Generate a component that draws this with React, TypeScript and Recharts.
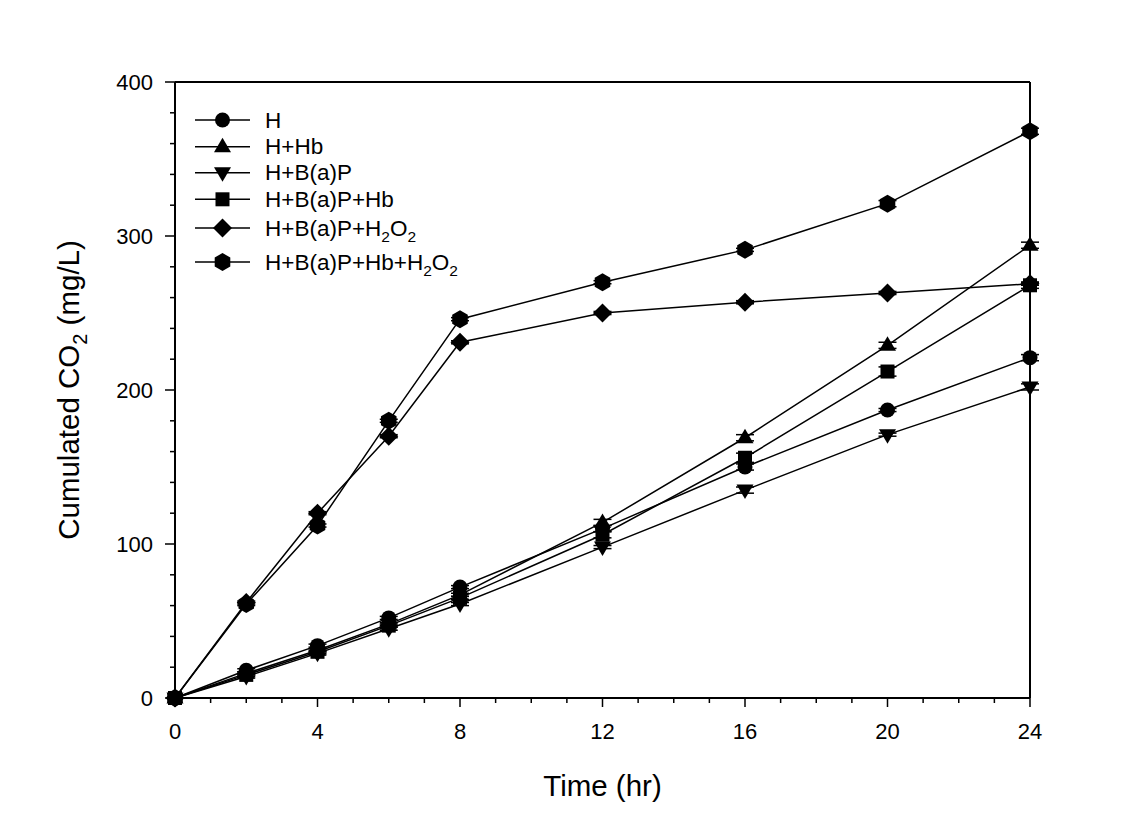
import { LineChart, Line, XAxis, YAxis, ErrorBar, ReferenceLine } from 'recharts';

const FONT = '"Liberation Sans", Arial, Helvetica, sans-serif';

// sampling times (hr)
const times = [0, 2, 4, 6, 8, 12, 16, 20, 24];

// cumulated CO2 (mg/L) per treatment
const seriesH = [0, 18, 34, 52, 72, 110, 150, 187, 221];
const seriesHHb = [0, 16, 31, 48, 67, 114, 169, 229, 294];
const seriesHBaP = [0, 14, 29, 45, 61, 98, 135, 171, 202];
const seriesHBaPHb = [0, 15, 30, 47, 65, 106, 156, 212, 268];
const seriesHBaPH2O2 = [0, 62, 120, 170, 231, 250, 257, 263, 269];
const seriesHBaPHbH2O2 = [0, 61, 112, 180, 246, 270, 291, 321, 368];

// standard deviations (small)
const errH = [0, 1, 1, 1, 1, 2, 2, 1, 2];
const errHHb = [0, 1, 1, 1, 1, 2, 2, 2, 2];
const errHBaP = [0, 1, 1, 1, 1, 1, 2, 1, 2];
const errHBaPHb = [0, 1, 1, 1, 1, 2, 3, 3, 2];
const errHBaPH2O2 = [0, 1, 1, 1, 1, 1, 1, 1, 1];
const errHBaPHbH2O2 = [0, 1, 1, 1, 1, 1, 1, 2, 2];

const xTicks = Array.from({ length: 25 }, (_, i) => i);
const yTicks = Array.from({ length: 21 }, (_, i) => i * 20);

type Shape = 'circle' | 'triangle' | 'triangleDown' | 'square' | 'diamond' | 'hexagon';

const seriesList: { key: string; err: string; values: number[]; errors: number[]; shape: Shape; label: string[] }[] = [
    { key: 'h', err: 'hErr', values: seriesH, errors: errH, shape: 'circle', label: ['H'] },
    { key: 'hhb', err: 'hhbErr', values: seriesHHb, errors: errHHb, shape: 'triangle', label: ['H+Hb'] },
    { key: 'hbap', err: 'hbapErr', values: seriesHBaP, errors: errHBaP, shape: 'triangleDown', label: ['H+B(a)P'] },
    { key: 'hbaphb', err: 'hbaphbErr', values: seriesHBaPHb, errors: errHBaPHb, shape: 'square', label: ['H+B(a)P+Hb'] },
    { key: 'hbaph2o2', err: 'hbaph2o2Err', values: seriesHBaPH2O2, errors: errHBaPH2O2, shape: 'diamond', label: ['H+B(a)P+H', '2', 'O', '2'] },
    { key: 'hbaphbh2o2', err: 'hbaphbh2o2Err', values: seriesHBaPHbH2O2, errors: errHBaPHbH2O2, shape: 'hexagon', label: ['H+B(a)P+Hb+H', '2', 'O', '2'] },
];

const data = times.map((t, i) => {
    const row: { [key: string]: number } = { t };
    seriesList.forEach((s) => {
        row[s.key] = s.values[i];
        row[s.err] = s.errors[i];
    });
    return row;
});

const Marker = ({ cx, cy, shape }: { cx: number; cy: number; shape: Shape }) => {
    if (cx == null || cy == null) return null;
    switch (shape) {
        case 'circle':
            return <circle cx={cx} cy={cy} r={7.5} fill="#000" />;
        case 'triangle':
            return <polygon points={`${cx},${cy - 9} ${cx + 8.5},${cy + 5.5} ${cx - 8.5},${cy + 5.5}`} fill="#000" />;
        case 'triangleDown':
            return <polygon points={`${cx},${cy + 9} ${cx + 8.5},${cy - 5.5} ${cx - 8.5},${cy - 5.5}`} fill="#000" />;
        case 'square':
            return <rect x={cx - 7} y={cy - 7} width={14} height={14} fill="#000" />;
        case 'diamond':
            return <polygon points={`${cx},${cy - 9.5} ${cx + 9.5},${cy} ${cx},${cy + 9.5} ${cx - 9.5},${cy}`} fill="#000" />;
        case 'hexagon': {
            const r = 9;
            const pts = [90, 30, -30, -90, -150, 150]
                .map((a) => `${cx + r * Math.cos((a * Math.PI) / 180)},${cy - r * Math.sin((a * Math.PI) / 180)}`)
                .join(' ');
            return <polygon points={pts} fill="#000" />;
        }
    }
    return null;
};

const XTick = (props: any) => {
    const { x, y, payload } = props;
    const major = payload.value % 4 === 0;
    return (
        <g>
            <line x1={x} y1={y} x2={x} y2={y + (major ? 9 : 5)} stroke="#000" strokeWidth={1.5} />
            {major && (
                <text x={x} y={y + 41} textAnchor="middle" fontSize={22} fontFamily={FONT} fill="#000">
                    {payload.value}
                </text>
            )}
        </g>
    );
};

const YTick = (props: any) => {
    const { x, y, payload } = props;
    const major = payload.value % 100 === 0;
    return (
        <g>
            <line x1={x - (major ? 10 : 5)} y1={y} x2={x} y2={y} stroke="#000" strokeWidth={1.5} />
            {major && (
                <text x={x - 22} y={y + 8} textAnchor="end" fontSize={22} fontFamily={FONT} fill="#000">
                    {payload.value}
                </text>
            )}
        </g>
    );
};

const XTitle = (props: any) => {
    const { viewBox } = props;
    return (
        <text x={viewBox.x + viewBox.width / 2} y={viewBox.y + 98} textAnchor="middle" fontSize={29.5} fontFamily={FONT} fill="#000">
            Time (hr)
        </text>
    );
};

const YTitle = (props: any) => {
    const { viewBox } = props;
    const cx = 79;
    const cy = viewBox.y + viewBox.height / 2;
    return (
        <text x={cx} y={cy} transform={`rotate(-90, ${cx}, ${cy})`} textAnchor="middle" fontSize={29.5} fontFamily={FONT} fill="#000">
            Cumulated CO
            <tspan dy={8} fontSize={20}>2</tspan>
            <tspan dy={-8}> (mg/L)</tspan>
        </text>
    );
};

const legendRows = [120, 146.7, 172.7, 199.3, 228, 262];

const LegendBox = () => (
    <svg width={620} height={300} style={{ position: 'absolute', left: 0, top: 0, pointerEvents: 'none' }}>
        {seriesList.map((s, i) => {
            const cy = legendRows[i];
            return (
                <g key={s.key}>
                    <line x1={195} y1={cy} x2={250} y2={cy} stroke="#000" strokeWidth={1.5} />
                    <Marker cx={222.5} cy={cy} shape={s.shape} />
                    <text x={265} y={cy + 7.5} fontSize={22.5} fontFamily={FONT} fill="#000">
                        {s.label.map((part, j) =>
                            j % 2 === 1 ? (
                                <tspan key={j} dy={6} fontSize={15.5}>{part}</tspan>
                            ) : (
                                <tspan key={j} dy={j === 0 ? 0 : -6}>{part}</tspan>
                            )
                        )}
                    </text>
                </g>
            );
        })}
    </svg>
);

export default function App() {
    return (
        <div style={{ position: 'absolute', left: 0, top: 0, width: 1131, height: 822, background: '#fff' }}>
            <LineChart width={1131} height={822} data={data} margin={{ top: 82, right: 101, left: 0, bottom: 0 }}>
                <XAxis
                    dataKey="t"
                    type="number"
                    domain={[0, 24]}
                    ticks={xTicks}
                    interval={0}
                    height={124}
                    tickSize={0}
                    tickMargin={0}
                    tickLine={false}
                    axisLine={{ stroke: '#000', strokeWidth: 2 }}
                    tick={<XTick />}
                    label={<XTitle />}
                />
                <YAxis
                    type="number"
                    domain={[0, 400]}
                    ticks={yTicks}
                    interval={0}
                    width={175}
                    tickSize={0}
                    tickMargin={0}
                    tickLine={false}
                    axisLine={{ stroke: '#000', strokeWidth: 2 }}
                    tick={<YTick />}
                    label={<YTitle />}
                />
                <ReferenceLine y={400} stroke="#000" strokeWidth={2} />
                <ReferenceLine x={24} stroke="#000" strokeWidth={2} />
                {seriesList.map((s) => (
                    <Line
                        key={s.key}
                        dataKey={s.key}
                        stroke="#000"
                        strokeWidth={1.5}
                        isAnimationActive={false}
                        dot={(p: any) => <Marker key={`${s.key}-${p.index}`} cx={p.cx} cy={p.cy} shape={s.shape} />}
                        activeDot={false}
                    >
                        <ErrorBar dataKey={s.err} direction="y" width={9} stroke="#000" strokeWidth={1.5} />
                    </Line>
                ))}
            </LineChart>
            <LegendBox />
        </div>
    );
}
